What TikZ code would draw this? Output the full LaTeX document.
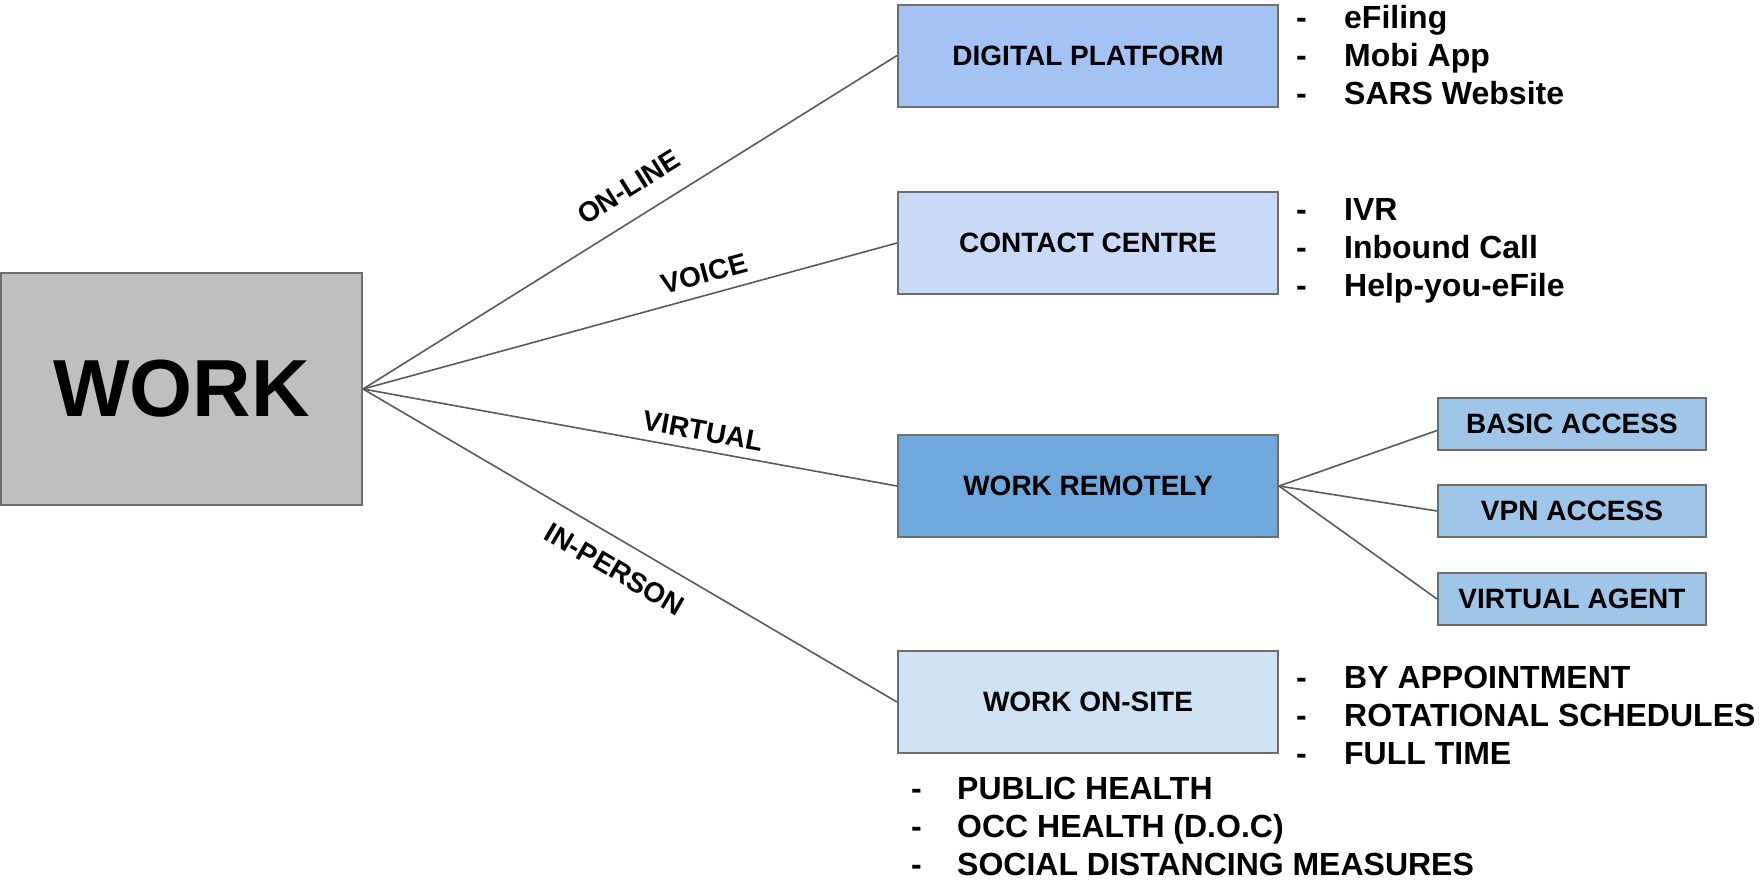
\documentclass[tikz,border=0pt]{standalone}
\usepackage{fontspec}
\setmainfont{Liberation Sans}
\usetikzlibrary{calc}
\definecolor{workgray}{HTML}{BFBFBF}
\definecolor{edgegray}{HTML}{6E6E6E}
\definecolor{linkgray}{HTML}{5A5A5A}
\definecolor{cornflowerA}{HTML}{A4C2F4}
\definecolor{cornflowerB}{HTML}{C9DAF8}
\definecolor{blueA}{HTML}{6FA8DC}
\definecolor{blueB}{HTML}{9FC5E8}
\definecolor{blueC}{HTML}{CFE2F3}
\begin{document}
\begin{tikzpicture}[x=1pt,y=-1pt,
  box/.style={draw=edgegray, line width=2pt, inner sep=0pt, text=black,
    font=\fontsize{28}{32}\selectfont\bfseries},
  bigbox/.style={box, minimum width=380pt, minimum height=102pt},
  smallbox/.style={box, minimum width=268pt, minimum height=52pt},
  link/.style={draw=linkgray, line width=1.6pt},
  tag/.style={sloped, inner sep=0pt, text height=20pt, text depth=0pt,
    font=\fontsize{28}{31}\selectfont\bfseries},
  item/.style={anchor=base west, inner sep=0pt,
    font=\fontsize{32}{38}\selectfont\bfseries}
]
\useasboundingbox (0,0) rectangle (1762,881);

% main box
\node[box, fill=workgray, minimum width=361pt, minimum height=232pt,
      font=\fontsize{81}{90}\selectfont\bfseries] (work) at (181.5,389) {WORK};

% channel boxes
\node[bigbox, fill=cornflowerA] (dp) at (1088,55.5) {DIGITAL PLATFORM};
\node[bigbox, fill=cornflowerB] (cc) at (1088,243) {CONTACT CENTRE};
\node[bigbox, fill=blueA] (wr) at (1088,486) {WORK REMOTELY};
\node[bigbox, fill=blueC] (wo) at (1088,702) {WORK ON-SITE};

% remote access options
\node[smallbox, fill=blueB] (ba) at (1572,423.5) {BASIC ACCESS};
\node[smallbox, fill=blueB] (vpn) at (1572,511) {VPN ACCESS};
\node[smallbox, fill=blueB] (va) at (1572,599) {VIRTUAL AGENT};

% connectors with channel labels
\draw[link] (work.east) -- node[tag, pos=0.528, above=20pt] (lonline) {ON-LINE} (dp.west);
\draw[link] (work.east) -- node[tag, pos=0.65, above=11pt] (lvoice) {VOICE} (cc.west);
\draw[link] (work.east) -- node[tag, pos=0.63, above=9pt] (lvirtual) {VIRTUAL} (wr.west);
\draw[link] (work.east) -- node[tag, pos=0.498, below=17pt] (linperson) {IN-PERSON} (wo.west);

\draw[link] (wr.east) -- ($(ba.north west)!0.63!(ba.south west)$);
\draw[link] (wr.east) -- (vpn.west);
\draw[link] (wr.east) -- (va.west);

% bullet lists
\foreach \t [count=\i] in {eFiling, Mobi App, SARS Website}
  \node[item] (dpl\i) at (1296,28.5+38*\i-38) {\makebox[48pt][l]{-}\t};
\foreach \t [count=\i] in {IVR, Inbound Call, Help-you-eFile}
  \node[item] (ccl\i) at (1296,220.5+38*\i-38) {\makebox[48pt][l]{-}\t};
\foreach \t [count=\i] in {BY APPOINTMENT, ROTATIONAL SCHEDULES, FULL TIME}
  \node[item] (wol\i) at (1296,688+38*\i-38) {\makebox[48pt][l]{-}\t};
\foreach \t [count=\i] in {PUBLIC HEALTH, OCC HEALTH (D.O.C), SOCIAL DISTANCING MEASURES}
  \node[item] (wob\i) at (911,799+38*\i-38) {\makebox[46pt][l]{-}\t};
\end{tikzpicture}
\end{document}
